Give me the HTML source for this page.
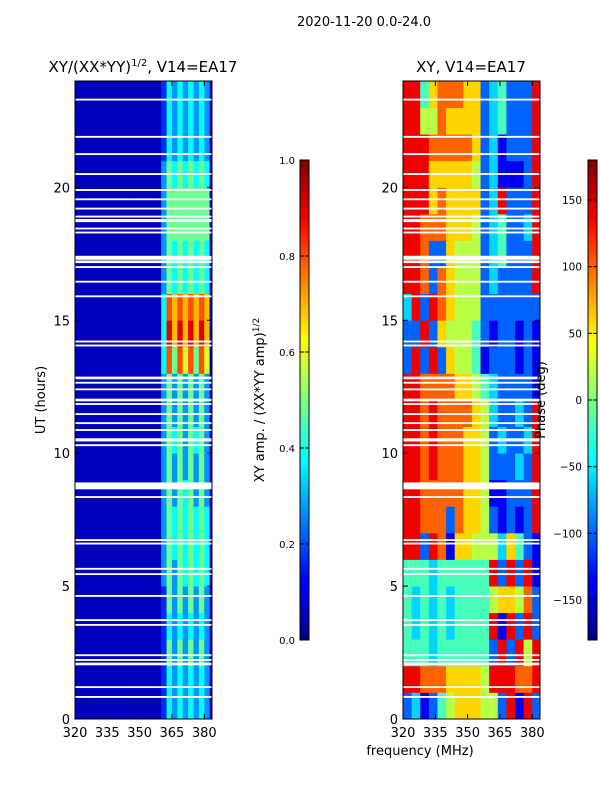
<!DOCTYPE html>
<html><head><meta charset="utf-8"><style>
body{margin:0;background:#fff;font-family:"Liberation Sans","DejaVu Sans",sans-serif}
svg text{font-family:"DejaVu Sans","Liberation Sans",sans-serif;fill:#000}
</style></head><body>
<svg id="fig" width="600" height="800" xmlns="http://www.w3.org/2000/svg">
<defs>
<linearGradient id="jetg" x1="0" y1="1" x2="0" y2="0">
<stop offset="0" stop-color="#00007f"/><stop offset="0.11" stop-color="#0000ff"/><stop offset="0.125" stop-color="#0000ff"/>
<stop offset="0.34" stop-color="#00dbff"/><stop offset="0.375" stop-color="#00ffff"/><stop offset="0.5" stop-color="#7fff7f"/>
<stop offset="0.625" stop-color="#ffff00"/><stop offset="0.66" stop-color="#ffdb00"/><stop offset="0.875" stop-color="#ff0000"/><stop offset="1" stop-color="#7f0000"/>
</linearGradient>
<clipPath id="cl"><rect x="75" y="81" width="137" height="638"/></clipPath>
<clipPath id="cr"><rect x="403" y="81" width="137" height="638"/></clipPath>
</defs>
<text x="364" y="26" font-size="13" text-anchor="middle">2020-11-20 0.0-24.0</text>
<g id="left"></g>
<g id="right"></g>
<text x="143" y="72" font-size="15" text-anchor="middle">XY/(XX*YY)<tspan font-size="10" dy="-6">1/2</tspan><tspan dy="6">, V14=EA17</tspan></text>
<text x="471" y="72" font-size="15" text-anchor="middle">XY, V14=EA17</text>
<text transform="translate(45,400) rotate(-90)" font-size="13" text-anchor="middle">UT (hours)</text>
<text x="420" y="755" font-size="13" text-anchor="middle">frequency (MHz)</text>
<rect x="300" y="160" width="9" height="480" fill="url(#jetg)" stroke="#000" stroke-width="1"/>
<rect x="588" y="160" width="9" height="480" fill="url(#jetg)" stroke="#000" stroke-width="1"/>
<text transform="translate(264,400) rotate(-90)" font-size="13" text-anchor="middle">XY amp. / (XX*YY amp)<tspan font-size="9" dy="-5">1/2</tspan></text>
<text transform="translate(545,400) rotate(-90)" font-size="13" text-anchor="middle">Phase (deg)</text>
<g id="axes"></g>
</svg>
<script>
const NS="http://www.w3.org/2000/svg";
// ---- data ----
const ampFreqStart=320, ampFreqStep=2.5;
const ampRows=[ // hour 0..23, 26 cols (320..385 MHz), digit d -> d/9
"00000000000000001323232320","00000000000000001323232320","00000000000000001424242420",
"00000000000000001323232320","00000000000000001424242420","00000000000000002424343430",
"00000000000000002434343430","00000000000000002434343430","00000000000000002424342420",
"00000000000000002424242420","00000000000000002434243420","00000000000000002424242420",
"00000000000000002424242420","00000000000000003747574750","00000000000000003868686860",
"00000000000000003767676760","00000000000000002434343430","00000000000000002434343430",
"00000000000000002444444440","00000000000000002444444440","00000000000000002434343430",
"00000000000000001323232320","00000000000000001323232320","00000000000000001323232320"];
const phaseFreqStart=320, phaseFreqStep=4;
const phaseRows=[ // hour 0..23, 16 cols (320..384 MHz), d -> -180+d*40
"2312456665528182","8877766665888778","4443444444282858","4343434444818282","4343434444566572",
"4443444444828281","8828716655536421","8877727665212128","8877777665112228","8878777665222328",
"8878777665232238","8878777765322328","8877776654322221","2828265541222121","2282655542122121",
"3828765552222222","8872765552322228","8872265552342228","8877766652342238","8886766662382228",
"8886666652311128","8887777762312228","8855766662342228","8846777662342228"];
const gapHours=[23.3,21.9,21.25,20.5,19.9,19.55,19.2,18.9,18.75,18.45,18.3,17.35,17.2,17.0,16.45,15.9,14.2,14.05,12.83,12.65,12.4,12.0,11.85,11.47,11.13,10.87,10.5,10.3,8.77,8.35,6.73,6.6,5.65,5.45,4.63,3.72,3.54,2.4,2.22,2.07,1.2,0.83];
const gapWidths=[0.07,0.07,0.07,0.07,0.07,0.07,0.07,0.07,0.12,0.07,0.07,0.15,0.1,0.07,0.07,0.07,0.07,0.07,0.1,0.07,0.07,0.1,0.07,0.07,0.07,0.07,0.12,0.07,0.26,0.07,0.07,0.07,0.07,0.07,0.07,0.07,0.07,0.07,0.07,0.1,0.07,0.07];
const xTicks=[320,335,350,365,380];
const yTicks=[0,5,10,15,20];
const ampTicks=[0.0,0.2,0.4,0.6,0.8,1.0];
const phaseTicks=[-150,-100,-50,0,50,100,150];
// ---- helpers ----
function jet(v){v=Math.max(0,Math.min(1,v));
 const r=Math.max(0,Math.min(1,1.5-Math.abs(4*v-3))),g=Math.max(0,Math.min(1,1.5-Math.abs(4*v-2))),b=Math.max(0,Math.min(1,1.5-Math.abs(4*v-1)));
 return `rgb(${Math.round(r*255)},${Math.round(g*255)},${Math.round(b*255)})`;}
function mk(tag,at,parent){const e=document.createElementNS(NS,tag);for(const k in at)e.setAttribute(k,at[k]);parent.appendChild(e);return e;}
function panel(id,x0,clip,rows,fs,fst,valFn,kind){
 const g=document.getElementById(id);
 const xs=f=>x0+(f-320)*137/63.6, ys=h=>719-h*638/24;
 const cg=mk('g',{'clip-path':`url(#${clip})`},g);
 rows.forEach((row,h)=>{for(let c=0;c<row.length;c++){
  const f=fs+c*fst, x=xs(f), w=xs(f+fst)-x;
  const r=mk('rect',{x:x,y:ys(h+1),width:w+0.4,height:ys(h)-ys(h+1)+0.4,fill:jet(valFn(+row[c]))},cg);
  
  
 }});
 gapHours.forEach((gh,i)=>{const r=mk('rect',{x:x0,y:ys(gh+gapWidths[i]/2),width:137,height:ys(gh-gapWidths[i]/2)-ys(gh+gapWidths[i]/2),fill:'#fff'},cg);
  
  });
 const fr=mk('rect',{x:x0,y:81,width:137,height:638,fill:'none',stroke:'#000','stroke-width':1},g);
 
 
 xTicks.forEach(t=>{const x=xs(t);
  mk('line',{x1:x,x2:x,y1:719,y2:714,stroke:'#000'},g);mk('line',{x1:x,x2:x,y1:81,y2:86,stroke:'#000'},g);
  const tx=mk('text',{x:x,y:737,'font-size':13,'text-anchor':'middle'},g);tx.textContent=t;
  
  });
 yTicks.forEach(t=>{const y=ys(t);
  mk('line',{x1:x0,x2:x0+5,y1:y,y2:y,stroke:'#000'},g);mk('line',{x1:x0+137,x2:x0+132,y1:y,y2:y,stroke:'#000'},g);
  const tx=mk('text',{x:x0-5,y:y+5,'font-size':13,'text-anchor':'end'},g);tx.textContent=t;
  
  });
}
panel('left',75,'cl',ampRows,ampFreqStart,ampFreqStep,d=>0.06+d/9*0.95,'amp');
panel('right',403,'cr',phaseRows,phaseFreqStart,phaseFreqStep,d=>(-180+d*40+180)/360,'phase');
const ax=document.getElementById('axes');
ampTicks.forEach(t=>{const y=640-t*480;
 mk('line',{x1:300,x2:304,y1:y,y2:y,stroke:'#000'},ax);mk('line',{x1:309,x2:305,y1:y,y2:y,stroke:'#000'},ax);
 const tx=mk('text',{x:295,y:y+4,'font-size':10,'text-anchor':'end'},ax);tx.textContent=t.toFixed(1);
 
 });
phaseTicks.forEach(t=>{const y=640-(t+180)/360*480;
 mk('line',{x1:588,x2:592,y1:y,y2:y,stroke:'#000'},ax);mk('line',{x1:597,x2:593,y1:y,y2:y,stroke:'#000'},ax);
 const tx=mk('text',{x:582,y:y+4,'font-size':10.5,'text-anchor':'end'},ax);tx.textContent=t<0?'\u2212'+(-t):t;
 
 });
</script>
</body></html>
